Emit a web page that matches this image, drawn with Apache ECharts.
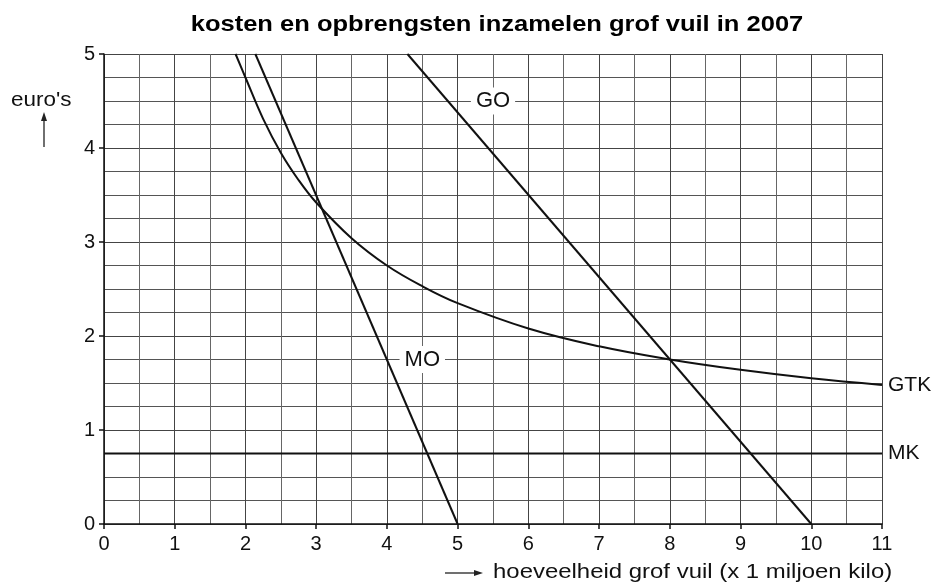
<!DOCTYPE html>
<html><head><meta charset="utf-8">
<script src="https://cdn.jsdelivr.net/npm/echarts@6/dist/echarts.min.js"></script>
<style>html,body{margin:0;padding:0;background:#fff}#c{width:939px;height:585px}</style>
</head><body><div id="c"></div>
<script>
const title = 'kosten en opbrengsten inzamelen grof vuil in 2007';
const yName = "euro's";
const xName = 'hoeveelheid grof vuil (x 1 miljoen kilo)';
const xTicks = [0,1,2,3,4,5,6,7,8,9,10,11];
const yTicks = [0,1,2,3,4,5];
const goX = [4.29, 10];
const goY = [5, 0];
const moX = [2.14, 5];
const moY = [5, 0];
const mkX = [0, 11];
const mkY = [0.75, 0.75];
const gtkX = [1.86, 2, 2.25, 2.5, 2.75, 3, 3.5, 4, 4.5, 5, 6, 7, 8, 9, 10, 11];
const gtkY = [5, 4.75, 4.31, 3.95, 3.66, 3.42, 3.04, 2.75, 2.53, 2.35, 2.08, 1.89, 1.75, 1.64, 1.55, 1.48];
const curveLabels = ['GO', 'MO'];
const labelX = [5.5, 4.5];
const labelY = [4.5, 1.75];

const zip = (xs, ys) => xs.map((x, i) => [x, ys[i]]);
const FONT = 'Liberation Sans';
const TXT = '#111';
const lineStyle = {color: '#111', width: 2};

const chart = echarts.init(document.getElementById('c'));
chart.setOption({
  animation: false,
  backgroundColor: '#fff',
  grid: {left: 104, top: 54, right: 57, bottom: 61},
  xAxis: {type: 'value', min: 0, max: 11, interval: 1,
    axisLine: {show: true, onZero: false, lineStyle: {color: '#111', width: 1.5}},
    axisTick: {show: true, length: 5, lineStyle: {color: '#111', width: 1.5}},
    axisLabel: {fontFamily: FONT, fontSize: 20, color: TXT, margin: 10,
      formatter: v => xTicks.includes(v) ? String(v) : ''},
    splitLine: {show: true, lineStyle: {color: '#444', width: 1}},
    minorTick: {show: false, splitNumber: 2},
    minorSplitLine: {show: true, lineStyle: {color: '#666', width: 1}}
  },
  yAxis: {type: 'value', min: 0, max: 5, interval: 1,
    axisLine: {show: true, onZero: false, lineStyle: {color: '#111', width: 1.5}},
    axisTick: {show: true, length: 5, lineStyle: {color: '#111', width: 1.5}},
    axisLabel: {fontFamily: FONT, fontSize: 20, color: TXT, margin: 9,
      formatter: v => yTicks.includes(v) ? String(v) : ''},
    splitLine: {show: true, lineStyle: {color: '#444', width: 1}},
    minorTick: {show: false, splitNumber: 4},
    minorSplitLine: {show: true, lineStyle: {color: '#555', width: 1}}
  },
  graphic: [
    {type: 'text', x: 497, y: 25, scaleX: 1.16,
      style: {text: title, align: 'center', verticalAlign: 'middle', fontFamily: FONT, fontSize: 22, fontWeight: 'bold', fill: '#000'}},
    {type: 'text', x: 11, y: 100, scaleX: 1.07,
      style: {text: yName, align: 'left', verticalAlign: 'middle', fontFamily: FONT, fontSize: 21, fill: TXT}},
    {type: 'line', shape: {x1: 44, y1: 147, x2: 44, y2: 118}, style: {stroke: '#222', lineWidth: 1.3}},
    {type: 'polygon', shape: {points: [[44, 112], [41, 121], [47, 121]]}, style: {fill: '#222'}},
    {type: 'line', shape: {x1: 445, y1: 573, x2: 476, y2: 573}, style: {stroke: '#222', lineWidth: 1.3}},
    {type: 'polygon', shape: {points: [[483, 573], [474, 570], [474, 576]]}, style: {fill: '#222'}},
    {type: 'text', x: 493, y: 572, scaleX: 1.14,
      style: {text: xName, align: 'left', verticalAlign: 'middle', fontFamily: FONT, fontSize: 21, fill: TXT}}
  ],
  series: [
    {type: 'line', data: zip(mkX, mkY), symbol: 'none', lineStyle: lineStyle, z: 3,
      endLabel: {show: true, formatter: 'MK', distance: 6, fontFamily: FONT, fontSize: 21, color: TXT}},
    {type: 'line', data: zip(gtkX, gtkY), symbol: 'none', smooth: 0.4, lineStyle: lineStyle, z: 3,
      endLabel: {show: true, formatter: 'GTK', distance: 6, fontFamily: FONT, fontSize: 21, color: TXT}},
    {type: 'line', data: zip(goX, goY), symbol: 'none', lineStyle: lineStyle, z: 3},
    {type: 'line', data: zip(moX, moY), symbol: 'none', lineStyle: lineStyle, z: 3},
    {type: 'scatter', symbolSize: 0, z: 5, silent: true, itemStyle: {opacity: 1},
      data: labelX.map((x, i) => ({value: [x, labelY[i]], name: curveLabels[i]})),
      label: {show: true, position: 'inside', formatter: p => p.name, fontFamily: FONT, fontSize: 22,
        color: TXT, opacity: 1, textBorderWidth: 0, backgroundColor: '#fff', padding: [3, 5, 2, 5]}}
  ]
});
</script></body></html>
